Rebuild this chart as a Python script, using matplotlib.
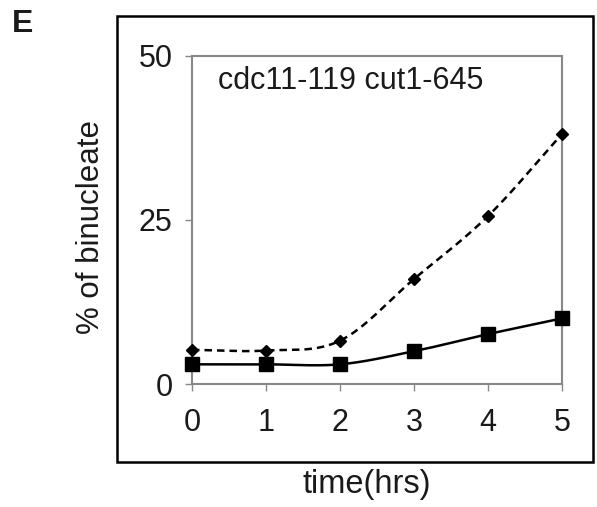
import numpy as np
import matplotlib
matplotlib.use("Agg")
import matplotlib.pyplot as plt
from matplotlib.patches import Rectangle

plt.rcParams['font.family'] = ['Liberation Sans', 'DejaVu Sans']

hours = [0, 1, 2, 3, 4, 5]
single_mutant = [3.0, 3.0, 3.0, 5.0, 7.6, 10.0]       # squares, solid
double_mutant = [5.2, 5.1, 6.6, 16.0, 25.6, 38.1]     # diamonds, dashed
yticks = [0, 25, 50]
label_text = "cdc11-119 cut1-645"


def smooth(x, y, n=30):
    # Catmull-Rom style smoothing, like Excel "smoothed line"
    x = np.asarray(x, float)
    y = np.asarray(y, float)
    px = np.concatenate([[2 * x[0] - x[1]], x, [2 * x[-1] - x[-2]]])
    py = np.concatenate([[2 * y[0] - y[1]], y, [2 * y[-1] - y[-2]]])
    xs, ys = [], []
    t = np.linspace(0, 1, n)
    for i in range(1, len(px) - 2):
        for p, out in ((px, xs), (py, ys)):
            p0, p1, p2, p3 = p[i - 1], p[i], p[i + 1], p[i + 2]
            m1 = (p2 - p0) / 6.0
            m2 = (p3 - p1) / 6.0
            seg = ((1 - t) ** 3 * p1 + 3 * (1 - t) ** 2 * t * (p1 + m1)
                   + 3 * (1 - t) * t ** 2 * (p2 - m2) + t ** 3 * p2)
            out.extend(seg)
    return np.array(xs), np.array(ys)


fig = plt.figure(figsize=(5.97, 5.07), dpi=100)
ax = fig.add_axes([0.3216, 0.2426, 0.6198, 0.647])

sx, sy = smooth(hours, double_mutant)
ax.plot(sx, sy, color="black", linestyle=(0, (3, 2)), linewidth=1.8, clip_on=False)
ax.plot(hours, double_mutant, linestyle="none", marker="D", markersize=6.5,
        color="black", clip_on=False, zorder=3)

sx, sy = smooth(hours, single_mutant)
ax.plot(sx, sy, color="black", linewidth=1.8, clip_on=False)
ax.plot(hours, single_mutant, linestyle="none", marker="s", markersize=9.5,
        color="black", clip_on=False, zorder=3)

ax.set_xlim(0, 5)
ax.set_ylim(0, 50)
ax.set_xticks(hours)
ax.set_yticks(yticks)
for s in ax.spines.values():
    s.set_color("#888888")
    s.set_linewidth(1.5)
ax.tick_params(axis="both", colors="#888888", labelcolor="#1a1a1a",
               labelsize=22, length=5, width=1)
ax.tick_params(axis="x", pad=12)
ax.tick_params(axis="y", pad=9)

ax.text(0.07, 0.899, label_text, transform=ax.transAxes, fontsize=22,
        color="#1a1a1a", ha="left", va="baseline")

fig.text(0.152, 0.553, "% of binucleate", rotation=90, fontsize=22.5,
         color="#1a1a1a", ha="center", va="center")
fig.text(0.6147, 0.0434, "time(hrs)", fontsize=23.5, color="#1a1a1a",
         ha="center", va="center")
fig.text(0.02, 0.952, "E", fontsize=23, fontweight="bold", color="#1a1a1a",
         ha="left", va="center")

fig.patches.append(Rectangle((0.196, 0.0888), 0.797, 0.8792, transform=fig.transFigure,
                             fill=False, edgecolor="black", linewidth=1.8))

fig.savefig("out.png", dpi=100)
